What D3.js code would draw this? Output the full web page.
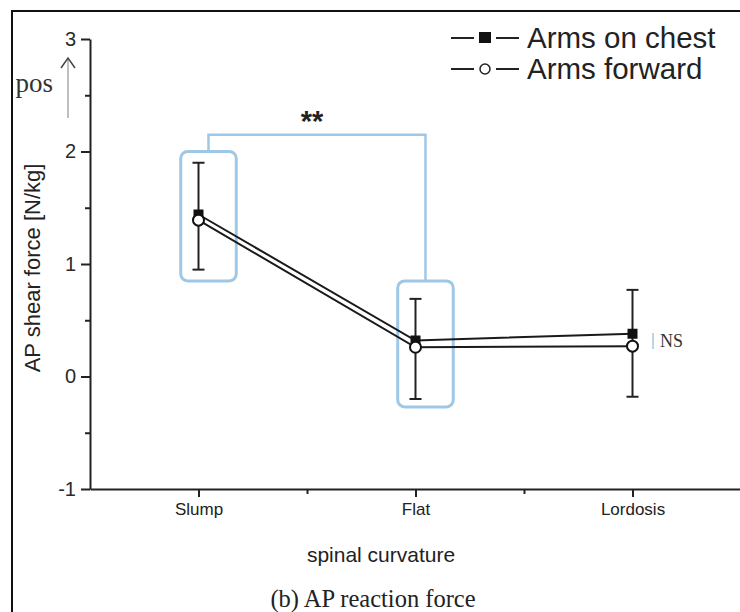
<!DOCTYPE html>
<html>
<head>
<meta charset="utf-8">
<script src="https://cdn.jsdelivr.net/npm/d3@7"></script>
<style>
  body { margin: 0; background: #fff; }
  svg { display: block; }
</style>
</head>
<body>
<script>
const w = 740;
const h = 612;

// values
const categories = ['Slump', 'Flat', 'Lordosis'];
const armsOnChest = [1.44, 0.32, 0.38];
const armsForward = [1.39, 0.26, 0.27];
const errHigh = [1.90, 0.69, 0.77];
const errLow = [0.95, -0.20, -0.18];
const yTicks = [-1, 0, 1, 2, 3];
const yMinorTicks = [-0.5, 0.5, 1.5, 2.5];
const xMinorTicks = [1.5, 2.5];
// highlighted groups: category position, box top, box bottom
const boxCenters = [1.046, 2.046];
const boxTop = [2.0, 0.85];
const boxBottom = [0.85, -0.27];
const bracketLevel = 2.15;

const sans = '"Liberation Sans", Arial, sans-serif';
const serif = '"Liberation Serif", "Times New Roman", serif';
const blue = '#9fc8e6';

const svg = d3.select('body')
  .append('svg')
  .attr('width', w)
  .attr('height', h);

svg.append('rect').attr('width', w).attr('height', h).attr('fill', '#fff');

// frame
svg.append('path')
  .attr('d', 'M12,612 L12,11 L740,11')
  .attr('fill', 'none')
  .attr('stroke', '#111')
  .attr('stroke-width', 2);

const x = d3.scaleLinear().domain([0.5, 3.5]).range([90, 741]);
const y = d3.scaleLinear().domain([-1, 3]).range([489, 39]);

// axes
const yAxis = svg.append('g')
  .attr('transform', 'translate(90,0)')
  .call(d3.axisLeft(y).tickValues(yTicks).tickSize(9).tickSizeOuter(0).tickFormat(d => String(d)));
yAxis.select('.domain').attr('stroke-width', 2).attr('stroke', '#222');
yAxis.selectAll('.tick line').attr('stroke-width', 2).attr('stroke', '#222');
yAxis.selectAll('.tick text')
  .attr('x', -14)
  .style('font-family', sans)
  .style('font-size', '20px')
  .attr('fill', '#2a2a2a');

const yMinor = svg.append('g')
  .attr('transform', 'translate(90,0)')
  .call(d3.axisLeft(y).tickValues(yMinorTicks).tickSize(5).tickFormat(''));
yMinor.select('.domain').remove();
yMinor.selectAll('.tick line').attr('stroke-width', 2).attr('stroke', '#222');

const xAxis = svg.append('g')
  .attr('transform', 'translate(0,489)')
  .call(d3.axisBottom(x).tickValues([1, 2, 3]).tickSize(8).tickSizeOuter(0).tickFormat((d, i) => categories[i]));
xAxis.select('.domain').attr('stroke-width', 2).attr('stroke', '#222');
xAxis.selectAll('.tick line').attr('stroke-width', 2).attr('stroke', '#222');
xAxis.selectAll('.tick text')
  .attr('y', 14)
  .style('font-family', sans)
  .style('font-size', '17px')
  .attr('fill', '#222');

const xMinor = svg.append('g')
  .attr('transform', 'translate(0,489)')
  .call(d3.axisBottom(x).tickValues(xMinorTicks).tickSize(5).tickFormat(''));
xMinor.select('.domain').remove();
xMinor.selectAll('.tick line').attr('stroke-width', 2).attr('stroke', '#222');

// axis titles
svg.append('text')
  .text('AP shear force [N/kg]')
  .attr('transform', 'translate(40,268) rotate(-90)')
  .attr('text-anchor', 'middle')
  .style('font-family', sans)
  .style('font-size', '22px')
  .attr('fill', '#222');

svg.append('text')
  .text('spinal curvature')
  .attr('x', 381)
  .attr('y', 562)
  .attr('text-anchor', 'middle')
  .style('font-family', sans)
  .style('font-size', '21px')
  .attr('fill', '#222');

svg.append('text')
  .text('(b) AP reaction force')
  .attr('x', 373)
  .attr('y', 607)
  .attr('text-anchor', 'middle')
  .style('font-family', serif)
  .style('font-size', '24.5px')
  .attr('fill', '#222');

// "pos" arrow
svg.append('text')
  .text('pos')
  .attr('x', 53)
  .attr('y', 92)
  .attr('text-anchor', 'end')
  .style('font-family', serif)
  .style('font-size', '27px')
  .attr('fill', '#333');
svg.append('line')
  .attr('x1', 68).attr('x2', 68)
  .attr('y1', 118).attr('y2', 59)
  .attr('stroke', '#aaa')
  .attr('stroke-width', 1.5);
svg.append('path')
  .attr('d', 'M61,68 L68,58 L75,68')
  .attr('fill', 'none')
  .attr('stroke', '#444')
  .attr('stroke-width', 1.5);

// highlight boxes and bracket
const boxHalf = 0.128;
svg.selectAll('rect.box')
  .data(boxCenters)
  .enter()
  .append('rect')
  .attr('class', 'box')
  .attr('x', d => x(d - boxHalf))
  .attr('y', (d, i) => y(boxTop[i]))
  .attr('width', x(1 + boxHalf) - x(1 - boxHalf))
  .attr('height', (d, i) => y(boxBottom[i]) - y(boxTop[i]))
  .attr('rx', 7)
  .attr('fill', 'none')
  .attr('stroke', blue)
  .attr('stroke-width', 3);

svg.append('path')
  .attr('d', 'M' + x(boxCenters[0]) + ',' + y(boxTop[0]) +
    ' L' + x(boxCenters[0]) + ',' + y(bracketLevel) +
    ' L' + x(boxCenters[1]) + ',' + y(bracketLevel) +
    ' L' + x(boxCenters[1]) + ',' + y(boxTop[1]))
  .attr('fill', 'none')
  .attr('stroke', blue)
  .attr('stroke-width', 2.5);

svg.append('text')
  .text('**')
  .attr('x', 312)
  .attr('y', 131)
  .attr('text-anchor', 'middle')
  .style('font-family', sans)
  .style('font-size', '29px')
  .style('font-weight', 'bold')
  .attr('fill', '#222');

// NS label
svg.append('line')
  .attr('x1', 653).attr('x2', 653)
  .attr('y1', 333).attr('y2', 349)
  .attr('stroke', blue)
  .attr('stroke-width', 1.5);
svg.append('text')
  .text('NS')
  .attr('x', 660)
  .attr('y', 347)
  .style('font-family', serif)
  .style('font-size', '18px')
  .attr('fill', '#333');

// error bars
const cap = 6;
const errG = svg.append('g').attr('stroke', '#222').attr('stroke-width', 2);
errG.selectAll('line.err')
  .data(categories)
  .enter()
  .append('line')
  .attr('x1', (d, i) => x(i + 1))
  .attr('x2', (d, i) => x(i + 1))
  .attr('y1', (d, i) => y(errHigh[i]))
  .attr('y2', (d, i) => y(errLow[i]));
errG.selectAll('line.capHi')
  .data(categories)
  .enter()
  .append('line')
  .attr('x1', (d, i) => x(i + 1) - cap)
  .attr('x2', (d, i) => x(i + 1) + cap)
  .attr('y1', (d, i) => y(errHigh[i]))
  .attr('y2', (d, i) => y(errHigh[i]));
errG.selectAll('line.capLo')
  .data(categories)
  .enter()
  .append('line')
  .attr('x1', (d, i) => x(i + 1) - cap)
  .attr('x2', (d, i) => x(i + 1) + cap)
  .attr('y1', (d, i) => y(errLow[i]))
  .attr('y2', (d, i) => y(errLow[i]));

// series lines
const line = d3.line()
  .x((d, i) => x(i + 1))
  .y(d => y(d));

[armsOnChest, armsForward].forEach(series => {
  svg.append('path')
    .datum(series)
    .attr('d', line)
    .attr('fill', 'none')
    .attr('stroke', '#1a1a1a')
    .attr('stroke-width', 2);
});

// markers
svg.selectAll('rect.sq')
  .data(armsOnChest)
  .enter()
  .append('rect')
  .attr('class', 'sq')
  .attr('x', (d, i) => x(i + 1) - 5)
  .attr('y', d => y(d) - 5)
  .attr('width', 10)
  .attr('height', 10)
  .attr('fill', '#111');

svg.selectAll('circle.dot')
  .data(armsForward)
  .enter()
  .append('circle')
  .attr('class', 'dot')
  .attr('cx', (d, i) => x(i + 1))
  .attr('cy', d => y(d))
  .attr('r', 5.5)
  .attr('fill', '#fff')
  .attr('stroke', '#111')
  .attr('stroke-width', 2);

// legend
const legendNames = ['Arms on chest', 'Arms forward'];
const legend = svg.selectAll('g.legend')
  .data(legendNames)
  .enter()
  .append('g')
  .attr('class', 'legend')
  .attr('transform', (d, i) => 'translate(0,' + (38 + i * 31) + ')');

legend.append('line')
  .attr('x1', 451).attr('x2', 474)
  .attr('stroke', '#222').attr('stroke-width', 2);
legend.append('line')
  .attr('x1', 496).attr('x2', 519)
  .attr('stroke', '#222').attr('stroke-width', 2);
legend.filter((d, i) => i === 0)
  .append('rect')
  .attr('x', 479).attr('y', -6)
  .attr('width', 12).attr('height', 11)
  .attr('fill', '#111');
legend.filter((d, i) => i === 1)
  .append('circle')
  .attr('cx', 485).attr('cy', 0)
  .attr('r', 5)
  .attr('fill', '#fff')
  .attr('stroke', '#222')
  .attr('stroke-width', 1.5);
legend.append('text')
  .text(d => d)
  .attr('x', 527)
  .attr('y', 10)
  .style('font-family', sans)
  .style('font-size', '29.5px')
  .attr('fill', '#222');
</script>
</body>
</html>
